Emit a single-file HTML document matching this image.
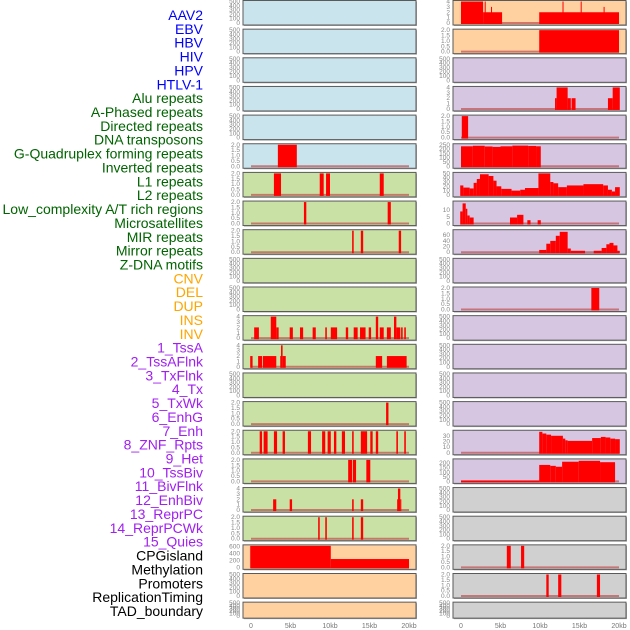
<!DOCTYPE html>
<html><head><meta charset="utf-8"><style>
html,body{margin:0;padding:0;background:#fff}
svg{display:block;font-family:"Liberation Sans",sans-serif}
</style></head><body>
<svg id="chart" width="630" height="630" viewBox="0 0 630 630"></svg>
<script>
const trackLabels = ["AAV2","EBV","HBV","HIV","HPV","HTLV-1","Alu repeats","A-Phased repeats","Directed repeats","DNA transposons","G-Quadruplex forming repeats","Inverted repeats","L1 repeats","L2 repeats","Low_complexity A/T rich regions","Microsatellites","MIR repeats","Mirror repeats","Z-DNA motifs","CNV","DEL","DUP","INS","INV","1_TssA","2_TssAFlnk","3_TxFlnk","4_Tx","5_TxWk","6_EnhG","7_Enh","8_ZNF_Rpts","9_Het","10_TssBiv","11_BivFlnk","12_EnhBiv","13_ReprPC","14_ReprPCWk","15_Quies","CPGisland","Methylation","Promoters","ReplicationTiming","TAD_boundary"];
const labelColors = ["#0000ff","#0000ff","#0000ff","#0000ff","#0000ff","#0000ff","#006400","#006400","#006400","#006400","#006400","#006400","#006400","#006400","#006400","#006400","#006400","#006400","#006400","#ffa500","#ffa500","#ffa500","#ffa500","#ffa500","#a020f0","#a020f0","#a020f0","#a020f0","#a020f0","#a020f0","#a020f0","#a020f0","#a020f0","#a020f0","#a020f0","#a020f0","#a020f0","#a020f0","#a020f0","#000","#000","#000","#000","#000"];
const xTicks = [0,5,10,15,20];
const xTickLabels = ["0","5kb","10kb","15kb","20kb"];
const T500=[0,100,200,300,400,500], T2=[0,0.5,1,1.5,2], T4=[0,1,2,3,4];
const leftBg = ["b","b","b","b","b","b","g","g","g","g","g","g","g","g","g","g","g","g","g","o","o","o"];
const rightBg = ["o","o","p","p","p","p","p","p","p","p","p","p","p","p","p","p","p","x","x","x","x","x"];
const leftTicks = [T500,T500,T500,T500,T500,T2,T2,T2,T2,T500,T500,T4,T4,T500,T2,T2,T2,T4,T2,[0,200,400,600],T500,T500];
const leftMax = [500,500,500,500,500,2,2,2,2,500,500,4,4,500,2,2,2,4,2,620,500,500];
const rightTicks = [T4,T2,T500,T4,T2,[0,50,100,150,200,250],[0,10,20,30,40,50],[0,5,10],[0,20,40,60],T500,T2,T500,T500,T500,T500,[0,10,20,30],[0,50,100,150,200],T500,T500,T2,T2,T500];
const rightMax = [4,2,500,4,2,250,50,16,76,500,2,500,500,500,500,38,235,500,500,2,2,500];
const leftSegs = [
 [],[],[],[],[],
 [[3.4,5.8,2]],
 [[2.9,3.8,2],[8.7,9.2,2],[9.5,10.0,2],[16.3,16.8,2]],
 [[6.7,7.0,2],[17.3,17.7,2]],
 [[12.8,13.0,2],[13.9,14.2,2],[18.7,19.0,2]],
 [],[],
 [[0.4,1.0,2],[2.5,3.2,4],[3.2,3.5,2],[4.9,5.3,2],[6.2,6.6,2],[7.8,8.2,2],[9.4,9.6,2],[10.1,10.9,2],[12.0,12.3,2],[13.0,13.5,2],[13.8,14.5,2],[14.9,15.2,2],[15.8,16.1,4],[16.3,16.8,2],[17.2,17.7,2],[18.1,18.4,4],[18.4,18.9,2],[19.0,19.2,2],[19.4,19.6,2]],
 [[-0.1,0.2,2],[0.9,1.4,2],[1.5,3.2,2],[3.7,3.8,2],[3.8,4.0,4],[4.0,4.4,2],[15.8,16.6,2],[17.2,19.7,2]],
 [],
 [[17.1,17.4,2]],
 [[1.1,1.4,2],[1.6,2.1,2],[2.9,3.3,2],[4.0,4.3,2],[7.2,7.6,2],[9.0,9.4,2],[9.7,10.1,2],[10.5,10.8,2],[11.5,11.9,2],[12.8,13.0,2],[13.9,14.7,2],[15.1,15.4,2],[15.8,16.1,2],[18.4,18.6,2],[19.4,19.6,2]],
 [[12.3,12.8,2],[12.9,13.3,2],[14.6,15.1,2]],
 [[2.8,3.2,2],[4.9,5.2,2],[12.8,13.0,2],[13.9,14.2,2],[18.5,18.6,2],[18.6,18.9,4],[18.9,19.0,2]],
 [[8.5,8.7,2],[9.4,9.6,2],[12.8,13.0,2],[13.9,14.2,2]],
 [[-0.1,10.1,620],[10.1,20.0,240]],
 [],[]
];
const rightSegs = [
 [[0,2.8,4],[2.8,5.2,2],[3.0,3.1,4],[3.8,3.9,3],[9.9,20.0,2],[12.85,12.95,4],[15.15,15.25,4],[18.05,18.15,3]],
 [[9.9,20.0,2]],
 [],
 [[11.9,12.1,2],[12.1,13.5,4],[13.5,13.9,2],[14.0,14.5,2],[18.6,19.2,2],[19.2,20.1,4]],
 [[0.1,0.9,2]],
 [[0,1.5,232],[1.5,3.0,238],[3.0,4.0,230],[4.0,5.0,225],[5.0,6.5,232],[6.5,8.5,240],[8.5,9.5,236],[9.5,10.1,232]],
 [[-0.1,0.3,22],[0.3,1.1,17],[1.1,1.6,15],[1.6,2.0,28],[2.0,2.4,37],[2.4,3.5,48],[3.5,4.1,44],[4.1,4.5,33],[4.5,5.1,20],[5.1,6.4,14],[6.4,7.5,10],[7.5,8.1,12],[8.1,9.8,16],[9.8,11.3,50],[11.3,11.7,30],[11.7,12.3,27],[12.3,13.4,18],[13.4,15.5,22],[15.5,18.0,25],[18.0,18.6,22],[18.6,19.1,12],[19.1,19.5,8],[19.5,20.1,18]],
 [[-0.1,0.2,9],[0.2,0.6,15],[0.6,0.8,11],[0.8,1.1,6],[1.1,1.6,4.5],[6.2,7.1,4.5],[7.1,7.9,6.5],[8.4,8.8,2.5],[9.7,10.1,2.5]],
 [[9.9,10.8,8],[10.8,11.3,30],[11.3,12.0,40],[12.0,12.5,58],[12.5,13.5,72],[13.5,13.9,13],[13.9,15.7,5],[16.8,17.8,5],[17.8,18.4,15],[18.4,18.8,28],[18.8,19.3,33],[19.3,19.8,24],[19.8,20.1,5]],
 [],
 [[16.5,17.5,2]],
 [],[],[],[],
 [[9.9,10.3,37],[10.3,10.8,34],[10.8,11.4,32],[11.4,12.9,30],[12.9,13.2,25],[13.2,13.5,22],[13.5,16.6,21],[16.6,17.7,26],[17.7,18.3,28],[18.3,18.9,27],[18.9,19.5,25],[19.5,20.1,24]],
 [[0,9.9,10],[9.9,11.3,180],[11.3,12.0,170],[12.0,12.8,160],[12.8,14.9,215],[14.9,17.6,225],[17.6,19.5,210]],
 [],[],
 [[5.8,6.3,2],[7.6,8.0,2]],
 [[10.8,11.1,2],[12.3,12.7,2],[17.2,17.6,2]],
 []
];
const NS="http://www.w3.org/2000/svg";
const svg=document.getElementById('chart');
function mk(tag,attrs,parent){const e=document.createElementNS(NS,tag);for(const k in attrs)e.setAttribute(k,attrs[k]);(parent||svg).appendChild(e);return e;}
const bgColors={b:"#c9e4ec",g:"#c9e1a5",o:"#ffd1a1",p:"#d6c6e2",x:"#d0d0d0"};
// labels
trackLabels.forEach((t,i)=>{
  const e=mk('text',{x:203,y:15+i*13.86,'text-anchor':'end','dominant-baseline':'central','font-size':14,fill:labelColors[i]});
  e.textContent=t;
  
  
});
const cols=[{x0:243,w:173,z:251,bg:leftBg,ticks:leftTicks,max:leftMax,segs:leftSegs,side:'left'},
            {x0:453,w:173,z:461,bg:rightBg,ticks:rightTicks,max:rightMax,segs:rightSegs,side:'right'}];
const kbPx=7.9;
cols.forEach(c=>{
  const xs=kb=>c.z+kb*kbPx;
  for(let i=0;i<22;i++){
    const top=0.5+i*28.65, h=(i===21)?16:24.5, bottom=top+h;
    const g=mk('g',{});
    
    
    mk('rect',{x:c.x0+1,y:top+1,width:c.w,height:h,fill:'#aaa'},g);
    mk('rect',{x:c.x0,y:top,width:c.w,height:h,fill:bgColors[c.bg[i]],stroke:'#5a5a5a','stroke-width':1},g);
    const ymax=c.max[i];
    const ys=v=>bottom-2-(v/ymax)*(h-3);
    c.ticks[i].forEach(t=>{
      const e=mk('text',{x:c.x0-3,y:ys(t)+2,'text-anchor':'end','font-size':6.5,fill:'#888'},g);
      e.textContent=(c.ticks[i]===T2)?t.toFixed(1):String(t);
      
      
    });
    const segs=c.segs[i];
    if(segs.length){
      const bl=mk('line',{x1:xs(0),x2:xs(20),y1:ys(0),y2:ys(0),stroke:'#c05050','stroke-width':2,'stroke-opacity':0.7},g);
      
      
      segs.forEach(s=>{
        const r=mk('rect',{x:xs(s[0]),y:ys(s[2]),width:Math.max(1,xs(s[1])-xs(s[0])),height:ys(0)-ys(s[2])+1,fill:'#ff0000'},g);
        
        
      });
    }
  }
  xTicks.forEach((t,k)=>{
    const e=mk('text',{x:xs(t),y:628,'text-anchor':'middle','font-size':7,fill:'#777'});
    e.textContent=xTickLabels[k];
    
    
  });
});
</script>
</body></html>
